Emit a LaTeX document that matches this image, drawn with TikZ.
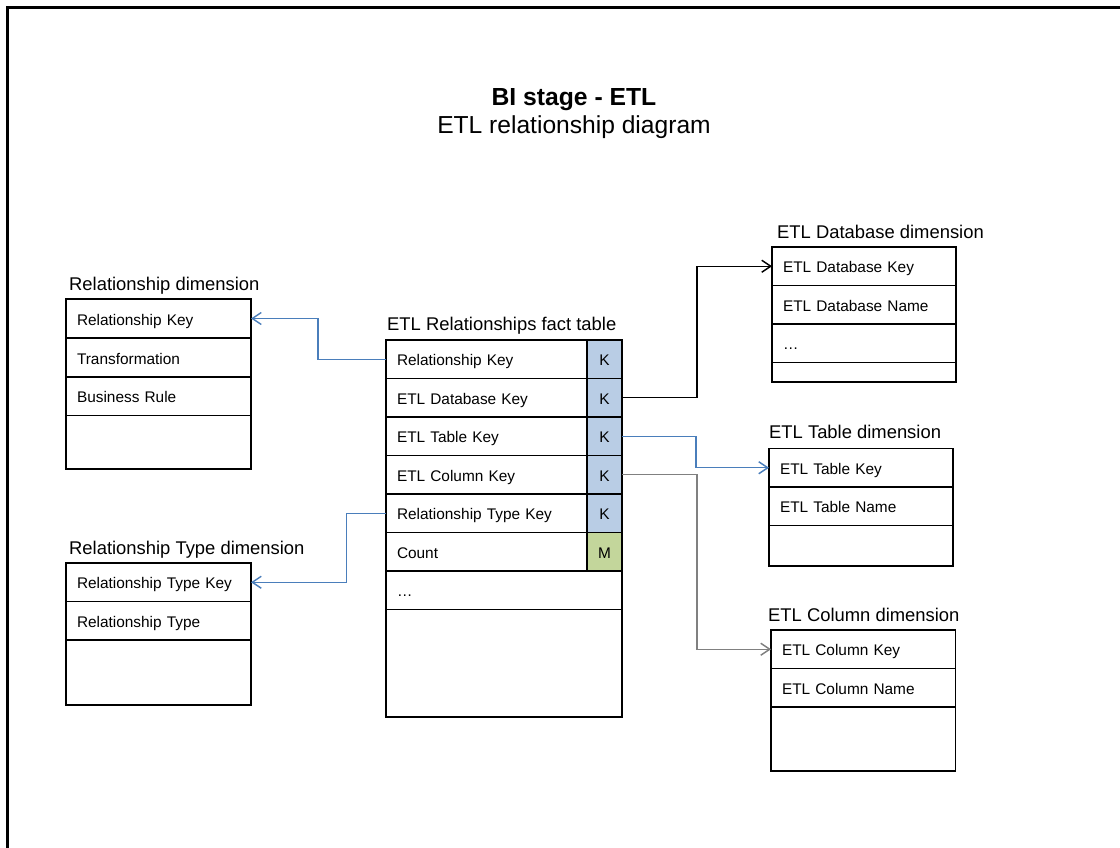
\documentclass[tikz,border=0pt]{standalone}
\usepackage{fontspec}
\setmainfont{Liberation Sans}
\usetikzlibrary{arrows.meta}
\definecolor{keyblue}{RGB}{185,205,229}
\definecolor{measuregreen}{RGB}{195,214,155}
\definecolor{linkblue}{RGB}{74,126,187}
\definecolor{linkgray}{RGB}{128,128,128}

\begin{document}
\begin{tikzpicture}[x=1pt,y=-1pt,
  rowfont/.style={font=\fontsize{15.4}{18}\selectfont},
  cell/.style 2 args={draw=black, line width=1.1pt, rectangle, anchor=north west,
    outer sep=0pt, inner xsep=11pt, inner ysep=0pt, text height=13pt, text depth=0pt,
    align=left, text width=#1, minimum height=#2, rowfont},
  keycell/.style 2 args={draw=black, line width=1.1pt, rectangle, anchor=north west,
    outer sep=0pt, inner sep=0pt, fill=#1, minimum width=35pt, minimum height=#2,
    text height=13pt, text depth=0pt, rowfont},
  tabletitle/.style={anchor=base west, inner sep=0pt, font=\fontsize{18.4}{22}\selectfont},
  link/.style={line width=1.4pt, -{Straight Barb[length=9pt,width=12pt,line width=1.4pt]}},
]
\useasboundingbox (0,0) rectangle (1120,848);
\clip (0,0) rectangle (1120,848);

% outer frame (runs past the page on the right and at the bottom)
\draw[line width=3pt] (7.5,7.5) rectangle (1140,870);

% heading
\node[anchor=base, inner sep=0pt, font=\fontsize{24.7}{28}\selectfont\bfseries] (title) at (574,105.5) {BI stage - ETL};
\node[anchor=base, inner sep=0pt, font=\fontsize{24.6}{28}\selectfont] (subtitle) at (574,134) {ETL relationship diagram};

% fact table
\node[tabletitle] (facttitle) at (387,330) {ETL Relationships fact table};
\node[cell={179pt}{38.5pt}] (f1) at (386,340)   {Relationship Key};
\node[cell={179pt}{38.5pt}] (f2) at (386,378.5) {ETL Database Key};
\node[cell={179pt}{38.5pt}] (f3) at (386,417)   {ETL Table Key};
\node[cell={179pt}{38.5pt}] (f4) at (386,455.5) {ETL Column Key};
\node[cell={179pt}{38.5pt}] (f5) at (386,494)   {Relationship Type Key};
\node[cell={179pt}{38.5pt}] (f6) at (386,532.5) {Count};
\node[cell={214pt}{38.5pt}] (f7) at (386,571)   {…};
\node[cell={214pt}{107.5pt}] (f8) at (386,609.5) {};
\node[keycell={keyblue}{38.5pt}] (k1) at (587,340)   {K};
\node[keycell={keyblue}{38.5pt}] (k2) at (587,378.5) {K};
\node[keycell={keyblue}{38.5pt}] (k3) at (587,417)   {K};
\node[keycell={keyblue}{38.5pt}] (k4) at (587,455.5) {K};
\node[keycell={keyblue}{38.5pt}] (k5) at (587,494)   {K};
\node[keycell={measuregreen}{38.5pt}] (m6) at (587,532.5) {M};

% relationship dimension
\node[tabletitle] (reltitle) at (69,290) {Relationship dimension};
\node[cell={163pt}{39pt}] (r1) at (66,299) {Relationship Key};
\node[cell={163pt}{39pt}] (r2) at (66,338) {Transformation};
\node[cell={163pt}{38.5pt}] (r3) at (66,377) {Business Rule};
\node[cell={163pt}{53.5pt}] (r4) at (66,415.5) {};

% relationship type dimension
\node[tabletitle] (typetitle) at (69,554) {Relationship Type dimension};
\node[cell={163pt}{38.5pt}] (t1) at (66,563)   {Relationship Type Key};
\node[cell={163pt}{38.5pt}] (t2) at (66,601.5) {Relationship Type};
\node[cell={163pt}{65pt}]   (t3) at (66,640)   {};

% ETL database dimension
\node[tabletitle] (dbtitle) at (777,238) {ETL Database dimension};
\node[cell={162pt}{38.5pt}] (d1) at (772,247)   {ETL Database Key};
\node[cell={162pt}{38.5pt}] (d2) at (772,285.5) {ETL Database Name};
\node[cell={162pt}{38.5pt}] (d3) at (772,324)   {…};
\node[cell={162pt}{19.5pt}] (d4) at (772,362.5) {};

% ETL table dimension
\node[tabletitle] (tbltitle) at (769,438) {ETL Table dimension};
\node[cell={162pt}{38.5pt}] (b1) at (769,448.5) {ETL Table Key};
\node[cell={162pt}{38.5pt}] (b2) at (769,487)   {ETL Table Name};
\node[cell={162pt}{40.5pt}] (b3) at (769,525.5) {};

% ETL column dimension
\node[tabletitle] (coltitle) at (768,621) {ETL Column dimension};
\node[cell={162.5pt}{38.5pt}] (c1) at (771,630)   {ETL Column Key};
\node[cell={162.5pt}{38.5pt}] (c2) at (771,668.5) {ETL Column Name};
\node[cell={162.5pt}{64pt}]   (c3) at (771,707)   {};

% key links
\draw[link, draw=linkblue] (f1.west) -- ++(-68,0) |- (r1.east);
\draw[link, draw=linkblue] (f5.west) -- ++(-39.5,0) |- (t1.east);
\draw[link, draw=black] (k2.east) -- ++(75,0) |- (d1.west);
\draw[link, draw=linkblue] (k3.east) -- ++(74,0) |- (b1.west);
\draw[link, draw=linkgray] (k4.east) -- ++(75,0) |- (c1.west);
\end{tikzpicture}
\end{document}
